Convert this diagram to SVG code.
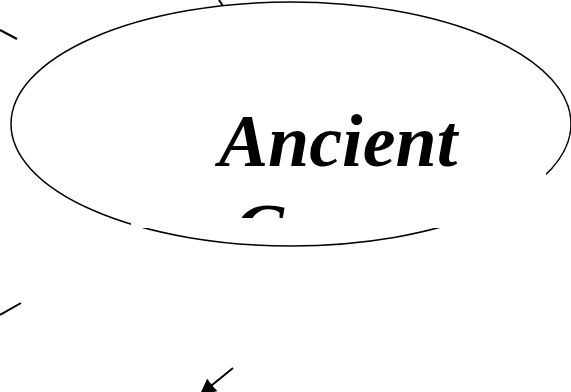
<svg xmlns="http://www.w3.org/2000/svg" width="571" height="392" viewBox="0 0 571 392">
<style>
.line{stroke:#000;stroke-width:2;fill:none}
.shape{stroke:#000;stroke-width:1.5;fill:#fff}
.label{font-family:"Liberation Serif","Times New Roman",serif;font-weight:bold;font-style:italic;font-size:74px;fill:#000}
</style>
<defs>
<marker id="arrow" viewBox="0 0 10 10" refX="9" refY="5" markerWidth="8" markerHeight="8" orient="auto" markerUnits="strokeWidth">
<path d="M0,0 L10,5 L0,10 z" fill="#000"/>
</marker>
<clipPath id="clipText"><rect x="131" y="90" width="415" height="128"/></clipPath>
</defs>
<rect width="571" height="392" fill="#fff"/>
<g id="connectors">
<line class="line" x1="233" y1="368" x2="201" y2="394" marker-end="url(#arrow)"/>
<line class="line" x1="0" y1="30" x2="17" y2="39"/>
<line class="line" x1="0" y1="315" x2="21" y2="303"/>
<line class="line" x1="219" y1="0" x2="223" y2="6"/>
</g>
<g id="node-ancient">
<ellipse class="shape" cx="291" cy="124" rx="280" ry="122"/>
<rect x="131" y="90" width="415" height="138" fill="#fff"/>
<g clip-path="url(#clipText)">
<text class="label" x="338" y="166" text-anchor="middle">Ancient</text>
<text class="label" x="234" y="255">G</text>
</g>
</g>
</svg>
